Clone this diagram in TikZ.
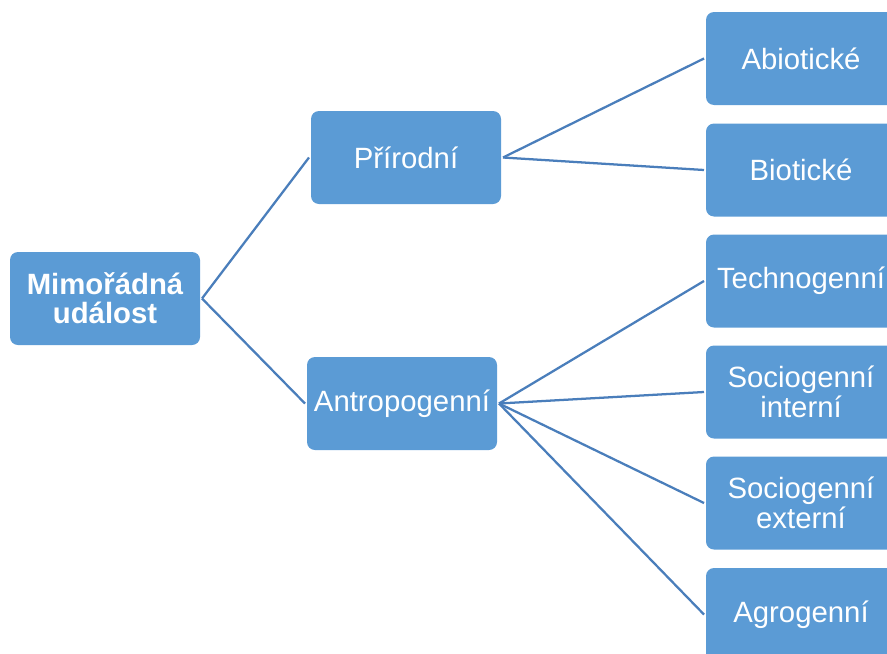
\documentclass[tikz,border=0pt]{standalone}
\usepackage{fontspec}
\setmainfont{Liberation Sans}
\definecolor{boxblue}{RGB}{91,155,213}
\definecolor{linkblue}{RGB}{74,126,187}

\tikzset{every picture/.style={line width=0.75pt}}
\tikzset{
	box/.style={fill=boxblue, rounded corners=6pt, minimum width=142.5pt, minimum height=69.75pt,
		inner sep=0pt, outer sep=1.5pt, text=white, align=center, font=\fontsize{22}{22.5}\selectfont},
	rootbox/.style={box, font=\fontsize{22}{22}\selectfont\bfseries},
	link/.style={draw=linkblue, line width=1.7pt}
}

\begin{document}
\begin{tikzpicture}[x=0.75pt,y=0.75pt,yscale=-1,xscale=1]
	\useasboundingbox (0,0) rectangle (887,653);
	\clip (0,0) rectangle (887,653);
	
	% Root
	\node [rootbox] (mimoradna) at (105,298.5) {Mimořádná\\událost};
	% Second level
	\node [box] (prirodni) at (406,157.5) {Přírodní};
	\node [box] (antropogenni) at (402,403.5) {Antropogenní};
	% Third level
	\node [box] (abioticke) at (801,58.5) {Abiotické};
	\node [box] (bioticke) at (801,170) {Biotické};
	\node [box] (technogenni) at (801,281) {Technogenní};
	\node [box] (sociointerni) at (801,392) {Sociogenní\\interní};
	\node [box] (socioexterni) at (801,503) {Sociogenní\\externí};
	\node [box] (agrogenni) at (801,614.5) {Agrogenní};
	
	% Links
	\foreach \child in {prirodni,antropogenni}
		\draw [link] (mimoradna.east) -- (\child.west);
	\foreach \child in {abioticke,bioticke}
		\draw [link] (prirodni.east) -- (\child.west);
	\foreach \child in {technogenni,sociointerni,socioexterni,agrogenni}
		\draw [link] (antropogenni.east) -- (\child.west);
	
\end{tikzpicture}
\end{document}
